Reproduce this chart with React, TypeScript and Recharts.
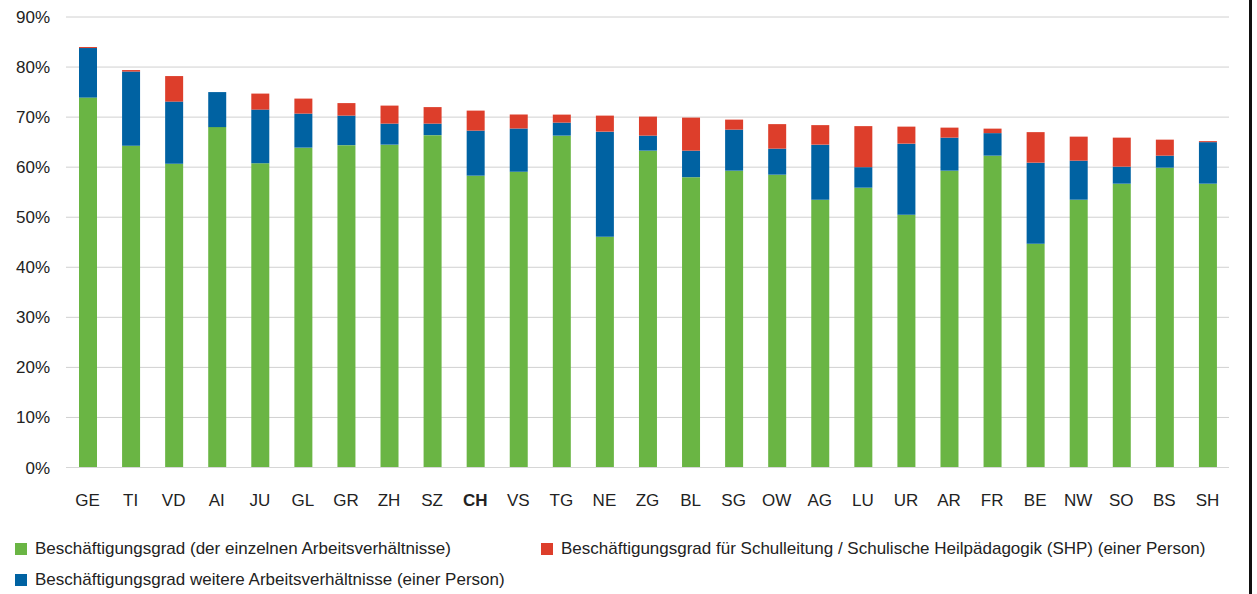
import { BarChart, Bar, XAxis, YAxis, CartesianGrid, Legend } from 'recharts'

const cantons = ['GE', 'TI', 'VD', 'AI', 'JU', 'GL', 'GR', 'ZH', 'SZ', 'CH', 'VS', 'TG', 'NE', 'ZG', 'BL', 'SG', 'OW', 'AG', 'LU', 'UR', 'AR', 'FR', 'BE', 'NW', 'SO', 'BS', 'SH']

// Beschäftigungsgrad (der einzelnen Arbeitsverhältnisse)
const einzelne = [73.9, 64.3, 60.7, 68.0, 60.8, 63.9, 64.4, 64.5, 66.4, 58.3, 59.1, 66.3, 46.1, 63.3, 58.0, 59.3, 58.5, 53.5, 55.9, 50.5, 59.3, 62.3, 44.7, 53.5, 56.7, 59.9, 56.7]
// weitere Arbeitsverhältnisse (einer Person)
const weitere = [9.9, 14.8, 12.4, 7.0, 10.7, 6.8, 5.9, 4.2, 2.3, 9.0, 8.6, 2.6, 21.0, 3.0, 5.3, 8.2, 5.2, 11.0, 4.1, 14.2, 6.6, 4.5, 16.2, 7.8, 3.4, 2.4, 8.3]
// Schulleitung / SHP (einer Person)
const schulleitung = [0.2, 0.3, 5.1, 0, 3.2, 3.0, 2.5, 3.6, 3.3, 4.0, 2.8, 1.6, 3.2, 3.8, 6.6, 2.0, 4.9, 3.9, 8.2, 3.4, 2.0, 0.9, 6.1, 4.8, 5.8, 3.2, 0.2]

const yTicks = [0, 10, 20, 30, 40, 50, 60, 70, 80, 90]

const GREEN = '#6ab544'
const BLUE = '#0062a2'
const RED = '#dd3e2b'

const legendItems = [
  { label: 'Beschäftigungsgrad (der einzelnen Arbeitsverhältnisse)', color: GREEN },
  { label: 'Beschäftigungsgrad für Schulleitung / Schulische Heilpädagogik (SHP) (einer Person)', color: RED },
  { label: 'Beschäftigungsgrad weitere Arbeitsverhältnisse (einer Person)', color: BLUE },
]

const data = cantons.map((c, i) => ({
  name: c,
  einzelne: einzelne[i],
  weitere: weitere[i],
  schulleitung: schulleitung[i],
}))

const FONT = '"Liberation Sans", Arial, sans-serif'

function CantonTick({ x, y, payload }: any) {
  return (
    <text
      x={x}
      y={y}
      dy='0.71em'
      textAnchor='middle'
      fontSize={17}
      fontFamily={FONT}
      fill='#222'
      fontWeight={payload.value === 'CH' ? 700 : 400}
    >
      {payload.value}
    </text>
  )
}

function LegendBox() {
  return (
    <div
      style={{
        height: 60,
        width: 1240,
        display: 'grid',
        gridTemplateColumns: '526px 1fr',
        gridAutoRows: '29px',
        rowGap: 2,
        paddingLeft: 15,
        fontFamily: FONT,
        fontSize: 17,
        color: '#222',
      }}
    >
      {legendItems.map((it) => (
        <div key={it.label} style={{ display: 'flex', alignItems: 'center', whiteSpace: 'nowrap' }}>
          <span style={{ width: 12, height: 12, background: it.color, marginRight: 8, flex: 'none' }} />
          {it.label}
        </div>
      ))}
    </div>
  )
}

export default function App() {
  return (
    <div style={{ position: 'relative', width: 1257, height: 594, background: '#fff', fontFamily: FONT }}>
      <style>{'body{margin:0}'}</style>
      <BarChart
        width={1249}
        height={594}
        data={data}
        margin={{ top: 17, right: 20, left: 10, bottom: 0 }}
        barSize={18}
      >
        <CartesianGrid vertical={false} stroke='#d0d0d0' />
        <XAxis
          dataKey='name'
          interval={0}
          height={66.5}
          tickLine={false}
          axisLine={{ stroke: '#d6d6d6' }}
          tickSize={6}
          tickMargin={20}
          tick={<CantonTick />}
        />
        <YAxis
          width={56}
          domain={[0, 90]}
          ticks={yTicks}
          tickFormatter={(v) => `${v}%`}
          axisLine={false}
          tickLine={false}
          tickSize={6}
          tickMargin={10}
          tick={{ fill: '#222', fontSize: 17, fontFamily: FONT }}
        />
        <Legend verticalAlign='bottom' wrapperStyle={{ left: 0 }} content={() => <LegendBox />} />
        <Bar dataKey='einzelne' stackId='a' fill={GREEN} isAnimationActive={false} />
        <Bar dataKey='weitere' stackId='a' fill={BLUE} isAnimationActive={false} />
        <Bar dataKey='schulleitung' stackId='a' fill={RED} isAnimationActive={false} />
      </BarChart>
      <div style={{ position: 'absolute', left: 1249, top: 0, width: 3, height: 594, background: '#111' }} />
    </div>
  )
}
